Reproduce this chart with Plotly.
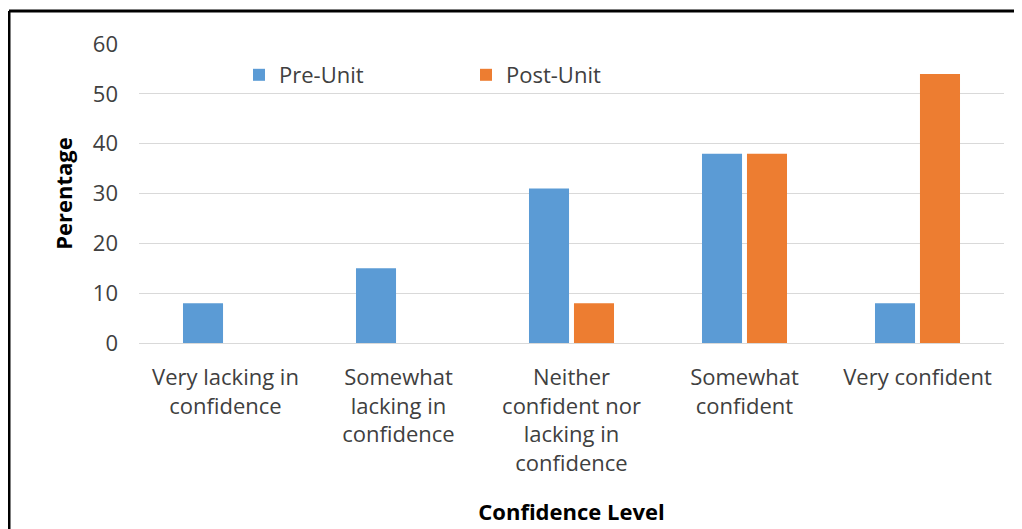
import plotly.graph_objects as go

categories = [
    "Very lacking in<br>confidence",
    "Somewhat<br>lacking in<br>confidence",
    "Neither<br>confident nor<br>lacking in<br>confidence",
    "Somewhat<br>confident",
    "Very confident",
]
pre_unit = [8, 15, 31, 38, 8]
post_unit = [0, 0, 8, 38, 54]
y_ticks = [0, 10, 20, 30, 40, 50, 60]

FONT = "Open Sans"
TXT = "#404040"
FS = 22

# page has 8px body margin; work in screen coords and convert
OFF = 8
W, H = 1022 - OFF, 529 - OFF
left, right, top, bottom = 139, 1004, 44, 343  # plot area in screen px
ml = left - OFF
mt = top - OFF
mr = W - (right - OFF)
mb = H - (bottom - OFF)
pw = W - ml - mr
ph = H - mt - mb


def px_x(x):
    return (x - OFF - ml) / pw


def px_y(y):
    return 1 - (y - OFF - mt) / ph


fig = go.Figure()
fig.add_trace(go.Bar(x=categories, y=pre_unit, name="Pre-Unit", showlegend=True,
                     marker=dict(color="#5B9BD5", line=dict(width=0)),
                     legend="legend"))
fig.add_trace(go.Bar(x=categories, y=post_unit, name="Post-Unit", showlegend=True,
                     marker=dict(color="#ED7D31", line=dict(width=0)),
                     legend="legend2"))

fig.update_layout(
    width=W, height=H,
    margin=dict(l=ml, r=mr, t=mt, b=mb, autoexpand=False),
    paper_bgcolor="white", plot_bgcolor="white",
    showlegend=True,
    bargap=0.48, bargroupgap=0.11, barmode="group",
    font=dict(family=FONT, size=FS, color=TXT),
    legend=dict(orientation="h", x=px_x(239), y=px_y(75), xanchor="left", yanchor="middle",
                bgcolor="rgba(0,0,0,0)", font=dict(family=FONT, size=FS, color=TXT)),
    legend2=dict(orientation="h", x=px_x(466), y=px_y(75), xanchor="left", yanchor="middle",
                 bgcolor="rgba(0,0,0,0)", font=dict(family=FONT, size=FS, color=TXT)),
    xaxis=dict(showgrid=False, showline=False, ticks="", ticklabelstandoff=19, automargin=False,
               tickfont=dict(family=FONT, size=FS, color=TXT),
               title=dict(text="<b>Confidence Level</b>", font=dict(family=FONT, size=22, color="black"),
                          standoff=28)),
    yaxis=dict(range=[0, 60], tickvals=y_ticks, showgrid=True, gridcolor="#D9D9D9", gridwidth=1,
               zeroline=True, zerolinecolor="#D9D9D9", zerolinewidth=1, showline=False, ticks="",
               ticklabelstandoff=20, automargin=False,
               tickfont=dict(family=FONT, size=FS, color=TXT),
               title=dict(text="<b>Perentage</b>", font=dict(family=FONT, size=22, color="black"),
                          standoff=14)),
)

# outer chart border (left and top edges)
fig.add_shape(type="line", xref="paper", yref="paper", x0=px_x(9), x1=px_x(9), y0=px_y(540), y1=px_y(11),
              line=dict(color="black", width=3))
fig.add_shape(type="line", xref="paper", yref="paper", x0=px_x(9), x1=px_x(1030), y0=px_y(11), y1=px_y(11),
              line=dict(color="black", width=3))

fig.write_html("out.html")
